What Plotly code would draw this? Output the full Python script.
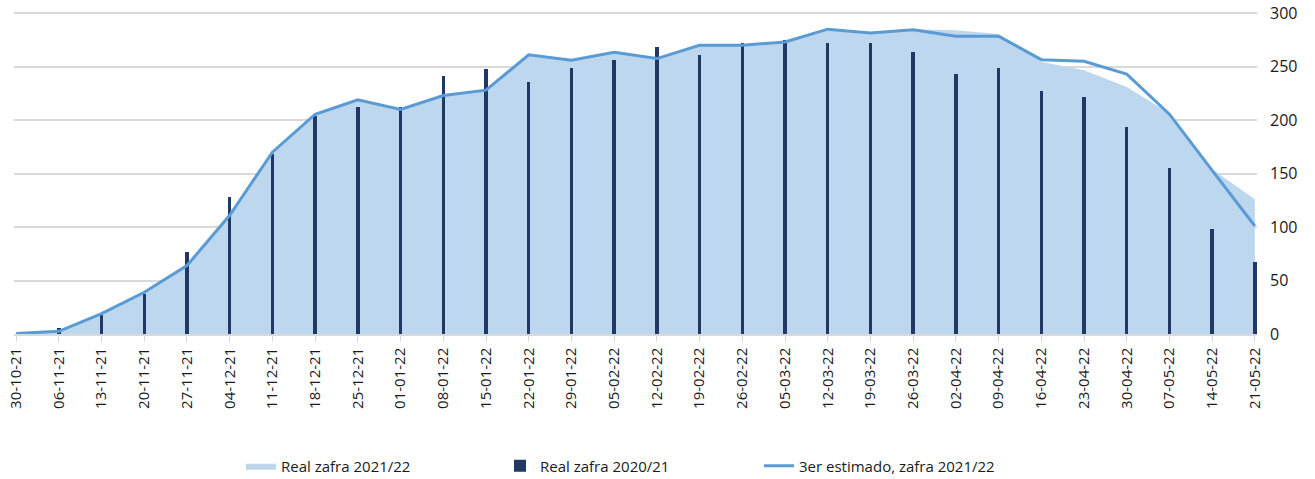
import plotly.graph_objects as go

categories = ["30-10-21", "06-11-21", "13-11-21", "20-11-21", "27-11-21", "04-12-21",
              "11-12-21", "18-12-21", "25-12-21", "01-01-22", "08-01-22", "15-01-22",
              "22-01-22", "29-01-22", "05-02-22", "12-02-22", "19-02-22", "26-02-22",
              "05-03-22", "12-03-22", "19-03-22", "26-03-22", "02-04-22", "09-04-22",
              "16-04-22", "23-04-22", "30-04-22", "07-05-22", "14-05-22", "21-05-22"]

real_2021_22 = [0.5, 2.5, 19, 39, 64, 111, 170, 205.5, 219, 210, 223, 228, 261, 256, 263.5,
                257.5, 270, 270, 273, 285, 281.5, 285, 284, 280.5, 254.5, 246.5, 231, 206.5,
                154, 126]

real_2020_21 = [0, 5.5, 18, 37, 77, 128, 168.5, 204, 212, 212.5, 241.5, 247.5, 235.5, 249,
                256.5, 268.5, 261, 272, 274.5, 272, 272, 264, 243, 249, 227, 222, 194, 155,
                98, 67]

estimado_2021_22 = [0.5, 2.5, 19, 39, 64, 111, 170, 205.5, 219, 210, 223, 228, 261, 256, 263.5,
                    257.5, 270, 270, 273, 285, 281.5, 284.5, 278.5, 278.5, 256.5, 255, 243,
                    205.5, 153, 101]

y_ticks = [0, 50, 100, 150, 200, 250, 300]

FONT = "Open Sans"
W, H = 1315, 479
Y_MAX = 302  # a little headroom so the 300 gridline is drawn

fig = go.Figure()

fig.add_trace(go.Scatter(
    x=categories, y=real_2021_22, name="Real zafra 2021/22",
    mode="lines", line=dict(width=0, color="#BDD7EE"),
    fill="tozeroy", fillcolor="#BDD7EE",
    xaxis="x", yaxis="y",
))

fig.add_trace(go.Bar(
    x=categories, y=real_2020_21, name="Real zafra 2020/21",
    marker=dict(color="#203864", line=dict(width=0)),
    width=0.08,
    xaxis="x", yaxis="y2",
))

fig.add_trace(go.Scatter(
    x=categories, y=estimado_2021_22, name="3er estimado, zafra 2021/22",
    mode="lines", line=dict(width=3, color="#5B9BD5"),
    xaxis="x", yaxis="y2",
))

left_px, right_px = 14, 1257
px_per_unit = (334.3 - 13.3) / 300
bottom_px = 334.3
top_px = bottom_px - Y_MAX * px_per_unit
legend_x_px, legend_y_px = 241, 466

fig.update_layout(
    width=W, height=H,
    margin=dict(l=left_px, r=W - right_px, t=top_px, b=H - bottom_px, pad=0, autoexpand=False),
    paper_bgcolor="white", plot_bgcolor="white",
    font=dict(family=FONT, size=15, color="#1a1a1a"),
    showlegend=True,
    legend=dict(
        orientation="h",
        xref="container", yref="container",
        x=legend_x_px / W, y=1 - legend_y_px / H, xanchor="left", yanchor="middle",
        entrywidth=214, entrywidthmode="pixels",
        font=dict(family=FONT, size=15, color="#1a1a1a"),
        itemwidth=30,
        traceorder="normal",
    ),
    bargap=0,
    xaxis=dict(
        type="category",
        range=[-0.05, 29.05],
        tickangle=-90,
        ticks="outside", ticklen=6, tickcolor="#D9D9D9", tickwidth=1,
        showline=True, linecolor="#D9D9D9", linewidth=1.5,
        showgrid=False,
        automargin=False,
        tickfont=dict(family=FONT, size=15, color="#1a1a1a"),
    ),
    yaxis=dict(
        side="right",
        range=[0, Y_MAX],
        tickvals=y_ticks,
        showgrid=True, gridcolor="#D9D9D9", gridwidth=1.5,
        zeroline=False,
        showline=False,
        ticks="",
        automargin=False,
        ticklabelstandoff=12,
        tickfont=dict(family=FONT, size=16, color="#1a1a1a"),
    ),
    yaxis2=dict(
        overlaying="y", side="right",
        range=[0, Y_MAX],
        visible=False,
        automargin=False,
    ),
)

fig.write_html("out.html", config={"displayModeBar": False},
               post_script="document.body.style.margin='0px';")
